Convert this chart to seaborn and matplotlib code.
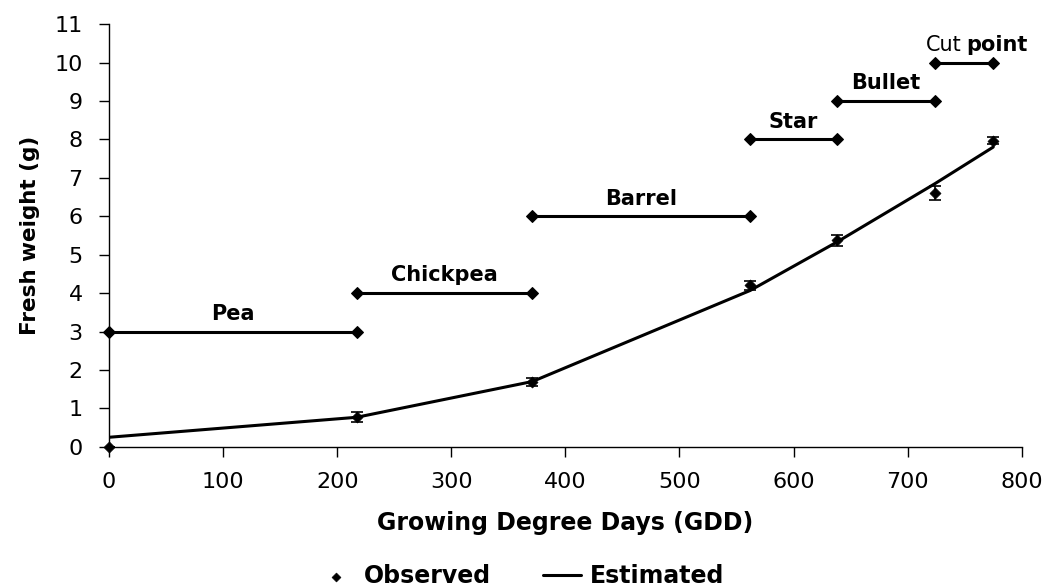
import matplotlib
matplotlib.use("Agg")
import matplotlib.pyplot as plt
import seaborn as sns
import pandas as pd
import numpy as np

sns.set_style("white")
plt.rcParams['font.family'] = ['DejaVu Sans']
plt.rcParams['text.color'] = 'black'
plt.rcParams['axes.labelcolor'] = 'black'
plt.rcParams['xtick.color'] = 'black'
plt.rcParams['ytick.color'] = 'black'

# Observed data
gdd = [0, 217, 371, 562, 638, 724, 775]
observed = [0.0, 0.78, 1.68, 4.2, 5.37, 6.6, 7.97]
obs_err = [0.0, 0.12, 0.1, 0.12, 0.15, 0.18, 0.08]
estimated = [0.25, 0.77, 1.7, 4.07, 5.33, 6.85, 7.8]

# Stage bars
stages = ["Pea", "Chickpea", "Barrel", "Star", "Bullet", "Cut point"]
stage_start = [0, 217, 371, 562, 638, 724]
stage_end = [217, 371, 562, 638, 724, 775]
stage_level = [3, 4, 6, 8, 9, 10]

fig = plt.figure(figsize=(10.49, 5.88), dpi=100)
ax = fig.add_axes([0.104, 0.24, 0.870, 0.719])

df = pd.DataFrame({"gdd": gdd, "obs": observed, "err": obs_err, "est": estimated})

sns.lineplot(data=df, x="gdd", y="est", ax=ax, color="black", lw=2.2, label="Estimated")
ax.errorbar(df["gdd"], df["obs"], yerr=df["err"], fmt="none", ecolor="black",
            elinewidth=1.2, capsize=4.5, capthick=1.2, zorder=3)
sns.scatterplot(data=df, x="gdd", y="obs", ax=ax, marker="D", s=32, color="black",
                edgecolor="black", zorder=4, label="Observed", clip_on=False)

for name, s, e, lv in zip(stages, stage_start, stage_end, stage_level):
    sdf = pd.DataFrame({"x": [s, e], "y": [lv, lv]})
    sns.lineplot(data=sdf, x="x", y="y", ax=ax, color="black", lw=2.2,
                 marker="D", markersize=6, markeredgecolor="black", legend=False,
                 clip_on=False)
    if name == "Cut point":
        ax.text(747, lv + 0.2, "Cut", ha="right", va="bottom", fontsize=15)
        ax.text(751, lv + 0.2, "point", ha="left", va="bottom",
                fontsize=15, fontweight="bold")
    else:
        ax.text((s + e) / 2, lv + 0.2, name, ha="center", va="bottom",
                fontsize=15, fontweight="bold")

ax.set_xlim(0, 800)
ax.set_ylim(0, 11)
ax.set_xticks(range(0, 801, 100))
ax.set_yticks(range(0, 12))
ax.tick_params(axis="both", labelsize=16, direction="out", length=7, width=1,
               bottom=True, left=True, colors="black")
ax.tick_params(axis="x", pad=11)
ax.tick_params(axis="y", pad=12)
ax.set_xlabel("Growing Degree Days (GDD)", fontsize=17, fontweight="bold", labelpad=14)
ax.set_ylabel("Fresh weight (g)", fontsize=15.5, fontweight="bold", labelpad=10)
for sp in ["top", "right"]:
    ax.spines[sp].set_visible(False)
for sp in ["left", "bottom"]:
    ax.spines[sp].set_color("black")
    ax.spines[sp].set_linewidth(1)

handles, labels = ax.get_legend_handles_labels()
order = [labels.index("Observed"), labels.index("Estimated")]
ax.legend([handles[i] for i in order], [labels[i] for i in order],
          loc="center", bbox_to_anchor=(0.451, -0.305), ncol=2, frameon=False,
          prop={"size": 17, "weight": "bold"}, handlelength=1.6, columnspacing=2.2,
          handletextpad=0.4, markerscale=0.8)

fig.savefig("out.png", dpi=100)
